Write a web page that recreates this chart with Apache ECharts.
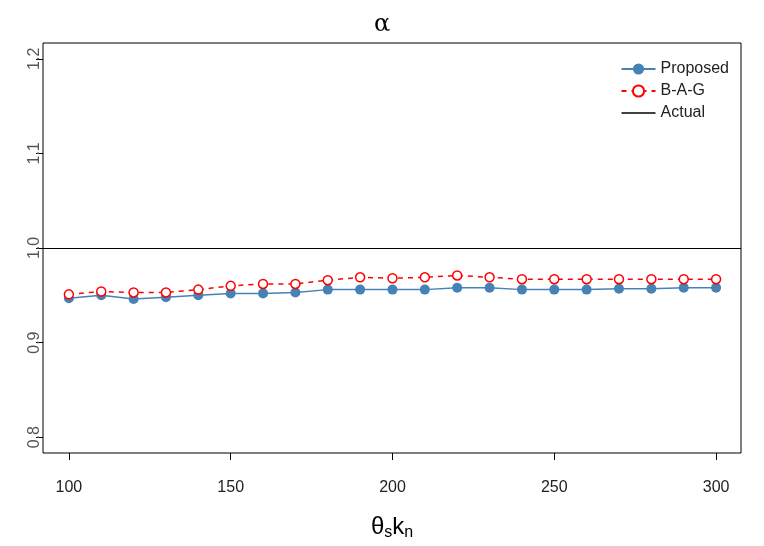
<!DOCTYPE html>
<html><head><meta charset="utf-8">
<script src="https://cdn.jsdelivr.net/npm/echarts@6/dist/echarts.min.js"></script>
<style>html,body{margin:0;padding:0;background:#fff}#main{width:764px;height:546px}</style>
</head><body><div id="main"></div>
<script>
const xvals = [100,110,120,130,140,150,160,170,180,190,200,210,220,230,240,250,260,270,280,290,300];
const proposed = [0.947,0.950,0.946,0.948,0.950,0.952,0.952,0.953,0.956,0.956,0.956,0.956,0.958,0.958,0.956,0.956,0.956,0.957,0.957,0.958,0.958];
const bag = [0.951,0.954,0.953,0.953,0.956,0.960,0.962,0.962,0.966,0.969,0.968,0.969,0.971,0.969,0.967,0.967,0.967,0.967,0.967,0.967,0.967];
const actual = 1.0;
const xticks = [100,150,200,250,300];
const yticks = [0.8,0.9,1.0,1.1,1.2];

var mychart = echarts.init(document.getElementById("main"));
const font = "Liberation Sans";
const option = {
	animation: false,
	title: {text: "α", left: "center", top: 8, textStyle: {fontFamily: "DejaVu Serif", fontWeight: "normal", fontSize: 24, color: "#000"}},
	grid: {left: 43, right: 23, top: 43, bottom: 88, show: true, borderColor: "#000", borderWidth: 1},
	legend: {right: 30, top: 56, orient: "vertical", itemGap: 6, itemWidth: 34,
		textStyle: {fontFamily: font, fontSize: 16, color: "#222"},
		data: ["Proposed", "B-A-G", {name: "Actual", icon: "path://M0,0H40V1.5H0Z", itemStyle: {color: "#000"}}]},
	xAxis: {type: "value", min: 92, max: 307.7,
		name: "{a|θ}{s|s}{a|k}{s|n}", nameLocation: "middle", nameGap: 60,
		nameTextStyle: {rich: {a: {fontSize: 24, fontFamily: font, color: "#000"}, s: {fontSize: 16, fontFamily: font, color: "#000", verticalAlign: "bottom", padding: [12,0,0,0]}}},
		axisLine: {show: false}, splitLine: {show: false},
		axisTick: {show: true, inside: false, length: 7, lineStyle: {color: "#000"}, customValues: xticks},
		axisLabel: {fontFamily: font, fontSize: 16, color: "#222", margin: 27, customValues: xticks}},
	yAxis: {type: "value", min: 0.7833, max: 1.2167,
		axisLine: {show: false}, splitLine: {show: false},
		axisTick: {show: true, inside: false, length: 7, lineStyle: {color: "#000"}, customValues: yticks},
		axisLabel: {fontFamily: font, fontSize: 16, color: "#555", rotate: 90, margin: 0, customValues: yticks, formatter: v => v.toFixed(1)}},
	series: [
		{name: "Proposed", type: "line", data: xvals.map((x, i) => [x, proposed[i]]),
			symbol: "circle", symbolSize: 10, itemStyle: {color: "#4682b4"}, lineStyle: {color: "#4682b4", width: 1.5}},
		{name: "B-A-G", type: "line", data: xvals.map((x, i) => [x, bag[i]]),
			symbol: "circle", symbolSize: 9, itemStyle: {color: "#fff", borderColor: "#ff0000", borderWidth: 1.5},
			lineStyle: {color: "#ff0000", type: [5, 5], width: 1.5}},
		{name: "Actual", type: "line", data: [], symbol: "none", itemStyle: {color: "#000"}, lineStyle: {color: "#000", width: 1.2},
			markLine: {silent: true, symbol: "none", label: {show: false}, lineStyle: {color: "#000", type: "solid", width: 1.2},
				data: [{yAxis: actual}]}}
	]
};
mychart.setOption(option);
</script></body></html>
